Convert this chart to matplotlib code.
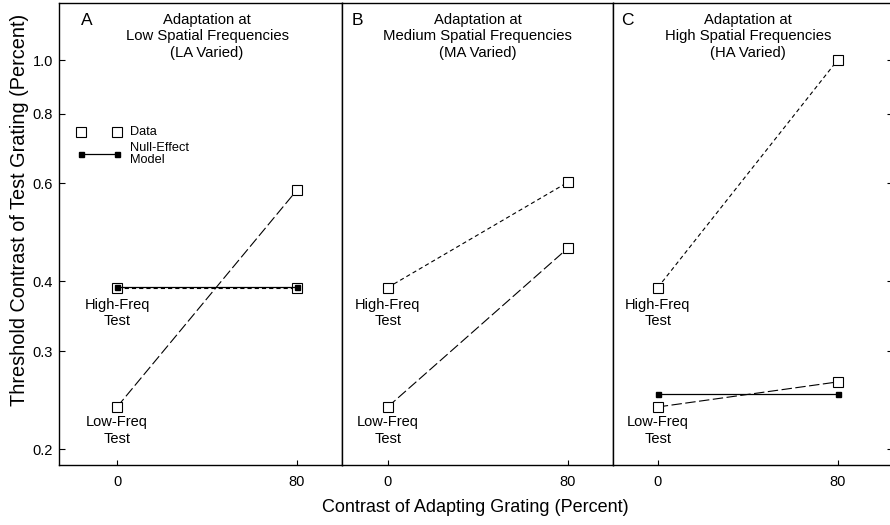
# Imports
from matplotlib import pyplot as plt
from matplotlib.ticker import FixedLocator, NullLocator

# Data (threshold contrast, percent)
adapt_contrast = [0, 80]
panel_letters = ["A", "B", "C"]
panel_titles = ["Adaptation at\nLow Spatial Frequencies\n(LA Varied)",
                "Adaptation at\nMedium Spatial Frequencies\n(MA Varied)",
                "Adaptation at\nHigh Spatial Frequencies\n(HA Varied)"]
high_test = [[0.390, 0.390], [0.390, 0.603], [0.390, 1.00]]
low_test = [[0.238, 0.584], [0.238, 0.459], [0.238, 0.264]]
null_model = [[0.3905, 0.3905], None, [0.251, 0.251]]

y_ticks = [0.2, 0.3, 0.4, 0.6, 0.8, 1.0]
y_tick_labels = ["0.2", "0.3", "0.4", "0.6", "0.8", "1.0"]
x_tick_labels = ["0", "80"]

# legend sample points (panel A)
legend_x = [-16, 0]
legend_data_y = [0.743, 0.743]
legend_model_y = [0.678, 0.678]

plt.rcParams['font.family'] = ['Liberation Sans', 'DejaVu Sans']
plt.rcParams['lines.scale_dashes'] = False

fig = plt.figure(figsize=(8.9, 5.25), dpi=100)

# panel placement (figure fractions) and x-limits
W, H = 890.0, 525.0
edges = [59, 342, 613, 893]
xlims = [(-25.8, 100), (-20.3, 100.1), (-19.9, 104.6)]
bottom = (H - 465) / H
height = 462 / H

for i in range(3):
    ax = fig.add_axes([edges[i] / W, bottom, (edges[i + 1] - edges[i]) / W, height])
    ax.set_yscale("log")
    ax.set_ylim(0.1872, 1.266)
    ax.set_xlim(*xlims[i])
    for s in ax.spines.values():
        s.set_linewidth(1.0)
        s.set_color("black")

    # x ticks
    ax.set_xticks(adapt_contrast)
    ax.set_xticklabels(x_tick_labels)
    ax.tick_params(axis="x", direction="in", length=3.5, width=0.8, pad=7, labelsize=10.5)

    # y ticks
    ax.yaxis.set_minor_locator(NullLocator())
    if i == 0:
        ax.yaxis.set_major_locator(FixedLocator(y_ticks))
        ax.set_yticklabels(y_tick_labels)
        ax.tick_params(axis="y", direction="in", length=4.5, width=0.8, pad=4.5, labelsize=10.5)
    elif i == 2:
        ax.yaxis.set_major_locator(FixedLocator(y_ticks))
        ax.tick_params(axis="y", which="both", left=False, right=True, labelleft=False,
                       direction="in", length=4.5, width=0.8)
    else:
        ax.yaxis.set_major_locator(NullLocator())

    # data lines
    ax.plot(adapt_contrast, high_test[i], color="black", linewidth=0.8,
            dashes=(3, 2.2), marker="s", markersize=7.2, markerfacecolor="white",
            markeredgecolor="black", markeredgewidth=0.8, zorder=3)
    ax.plot(adapt_contrast, low_test[i], color="black", linewidth=0.8,
            dashes=(7.5, 2.5), marker="s", markersize=7.2, markerfacecolor="white",
            markeredgecolor="black", markeredgewidth=0.8, zorder=3)
    if null_model[i] is not None:
        ax.plot(adapt_contrast, null_model[i], color="black", linewidth=0.9,
                marker="s", markersize=3.6, markerfacecolor="black",
                markeredgecolor="black", zorder=4)

    # point labels
    ax.annotate("High-Freq\nTest", (0, high_test[i][0]), xytext=(0, -7.5),
                textcoords="offset points", ha="center", va="top", fontsize=10.5)
    ax.annotate("Low-Freq\nTest", (0, low_test[i][0]), xytext=(0, -6),
                textcoords="offset points", ha="center", va="top", fontsize=10.5)

    # panel letter and title
    ax.text(-13.5, 1.214, panel_letters[i], ha="center", va="top", fontsize=12.5)
    ax.text(40, 1.214, panel_titles[i], ha="center", va="top", fontsize=10.7,
            linespacing=1.2)

    # legend in panel A
    if i == 0:
        ax.plot(legend_x, legend_data_y, linestyle="none", marker="s", markersize=7.2,
                markerfacecolor="white", markeredgecolor="black", markeredgewidth=0.8)
        ax.plot(legend_x, legend_model_y, color="black", linewidth=0.9, marker="s",
                markersize=3.6, markerfacecolor="black", markeredgecolor="black")
        ax.text(5.8, legend_data_y[0], "Data", ha="left", va="center", fontsize=9.2)
        ax.text(5.8, legend_model_y[0], "Null-Effect\nModel", ha="left", va="center",
                fontsize=9.2, linespacing=1.0)

# axis titles
fig.text(20 / W, (H - 210) / H, "Threshold Contrast of Test Grating (Percent)",
         rotation=90, ha="center", va="center", fontsize=14.3)
fig.text(475 / W, (H - 508) / H, "Contrast of Adapting Grating (Percent)",
         ha="center", va="center", fontsize=13)

fig.savefig("out.png", dpi=100)
